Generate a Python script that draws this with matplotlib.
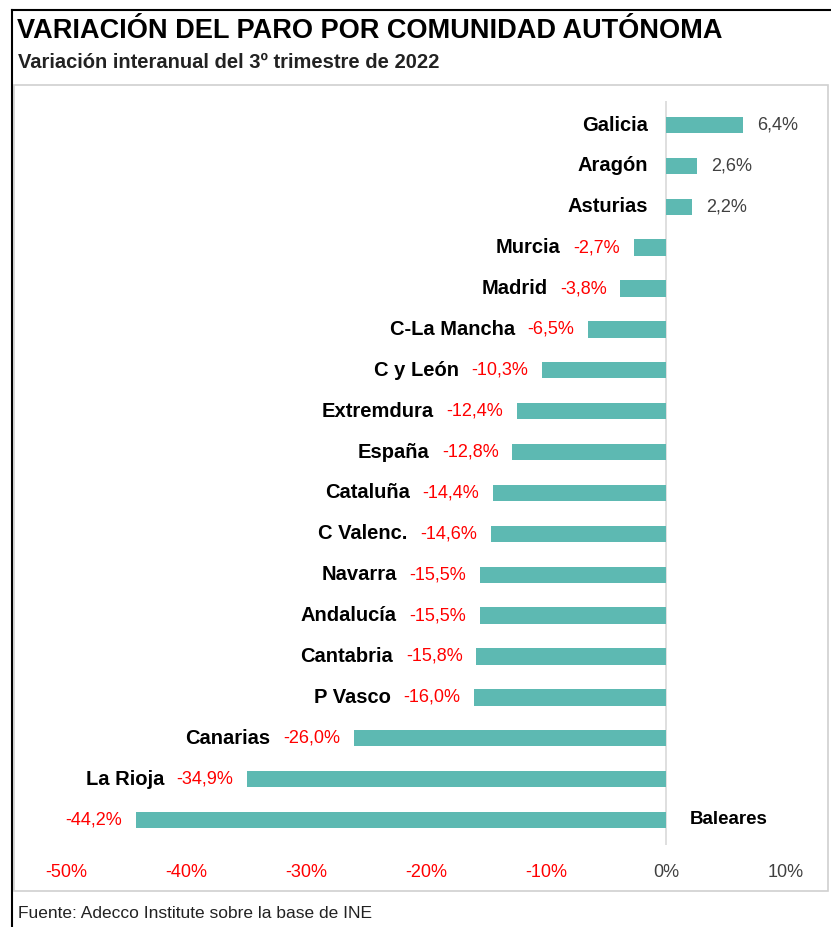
import matplotlib.pyplot as plt
from matplotlib.patches import Rectangle

regiones = ["Galicia", "Aragón", "Asturias", "Murcia", "Madrid", "C-La Mancha",
            "C y León", "Extremdura", "España", "Cataluña", "C Valenc.", "Navarra",
            "Andalucía", "Cantabria", "P Vasco", "Canarias", "La Rioja", "Baleares"]
variacion = [6.4, 2.6, 2.2, -2.7, -3.8, -6.5, -10.3, -12.4, -12.8, -14.4, -14.6,
             -15.5, -15.5, -15.8, -16.0, -26.0, -34.9, -44.2]
ticks = [-50, -40, -30, -20, -10, 0, 10]

W, H = 831, 927
BAR = "#5db9b2"
RED = "#ff0000"
GREY = "#404040"
plt.rcParams['font.family'] = ['Liberation Sans', 'DejaVu Sans']

fig = plt.figure(figsize=(W / 100, H / 100), dpi=100)


def fx(px):
    return px / W


def fy(py):
    return 1 - py / H


# marco exterior y panel interior
fig.add_artist(plt.Line2D([fx(12), fx(12)], [fy(10), fy(930)], color="black", lw=1.5))
fig.add_artist(plt.Line2D([fx(12), fx(835)], [fy(10), fy(10)], color="black", lw=1.5))
fig.add_artist(Rectangle((fx(14), fy(891)), fx(814), (891 - 85) / H, fill=False,
                         edgecolor="#d0d0d0", lw=1.2, transform=fig.transFigure))

fig.text(fx(17), fy(31), "VARIACIÓN DEL PARO POR COMUNIDAD AUTÓNOMA", fontsize=19.5,
         fontweight="bold", va="center", ha="left")
fig.text(fx(18), fy(62), "Variación interanual del 3º trimestre de 2022", fontsize=14.5,
         fontweight="bold", va="center", ha="left", color="#222222")
fig.text(fx(18), fy(913), "Fuente: Adecco Institute sobre la base de INE", fontsize=12.5,
         va="center", ha="left", color="#222222")

# ejes: 12 px por punto porcentual, 0% en x=666
left_px, right_px = 40, 810
x0, scale = 666, 12.0
top_px, bot_px = 100.5, 844.5
ax = fig.add_axes([fx(left_px), fy(bot_px), (right_px - left_px) / W, (bot_px - top_px) / H])
ax.set_xlim((left_px - x0) / scale, (right_px - x0) / scale)
ax.set_ylim(len(regiones) - 0.4, -0.6)
for s in ax.spines.values():
    s.set_visible(False)
ax.set_yticks([])
ax.axvline(0, color="#d9d9d9", lw=1.2, zorder=0)

ypos = list(range(len(regiones)))
ax.barh(ypos, variacion, height=0.4, color=BAR, zorder=2)

for i, (reg, v) in enumerate(zip(regiones, variacion)):
    if v >= 0:
        ax.annotate(f"{v:.1f}%".replace(".", ","), (v, i), xytext=(10, 0),
                    textcoords="offset points", ha="left", va="center",
                    fontsize=13, color=GREY)
        ax.annotate(reg, (0, i), xytext=(-13, 0), textcoords="offset points",
                    ha="right", va="center", fontsize=14.5, fontweight="bold")
    else:
        t = ax.annotate(f"{v:.1f}%".replace(".", ","), (v, i), xytext=(-10, 0),
                        textcoords="offset points", ha="right", va="center",
                        fontsize=13, color=RED)
        if reg == "Baleares":
            ax.annotate(reg, (0, i), xytext=(17, 0), textcoords="offset points",
                        ha="left", va="center", fontsize=13.5, fontweight="bold")
        else:
            ax.annotate(reg, (0, 0.5), xycoords=t, xytext=(-9, 0),
                        textcoords="offset points", ha="right", va="center",
                        fontsize=14.5, fontweight="bold")

ax.set_xticks(ticks)
ax.set_xticklabels([f"{t}%" for t in ticks])
ax.tick_params(axis="x", length=0, pad=14, labelsize=13)
for lab, t in zip(ax.get_xticklabels(), ticks):
    lab.set_color(RED if t < 0 else GREY)

fig.savefig("out.png", dpi=100)
